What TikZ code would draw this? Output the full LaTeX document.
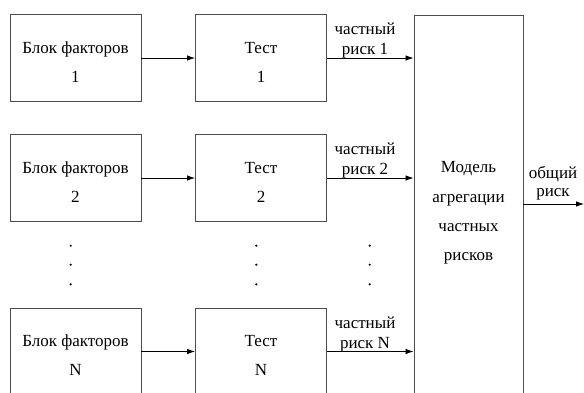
\documentclass[tikz,border=0pt]{standalone}
\usepackage{fontspec}
\setmainfont{Liberation Serif}
\usetikzlibrary{arrows.meta}
\begin{document}
\begin{tikzpicture}[x=1pt,y=-1pt,
  box/.style={draw=black!70, line width=0.9pt, minimum width=131pt,
    minimum height=86.5pt, inner sep=0pt, align=center,
    font=\fontsize{17}{29}\selectfont,
    execute at begin node={\rule{0pt}{48pt}}},
  bigbox/.style={draw=black!70, line width=0.9pt, minimum width=109pt,
    minimum height=396pt, inner sep=0pt, align=center,
    font=\fontsize{17}{29.3}\selectfont},
  lbl/.style={align=center, inner sep=0pt, font=\fontsize{17}{20}\selectfont},
  arr/.style={-{Latex[length=8pt,width=5.5pt]}, line width=0.8pt},
  dot/.style={circle, fill=black, inner sep=0pt, minimum size=2.4pt}]
\useasboundingbox (0,0) rectangle (584,392);
\clip (0,0) rectangle (584,392);

% factor blocks
\node[box] (f1) at (75.5,58)   {Блок факторов\\1};
\node[box] (f2) at (75.5,178)  {Блок факторов\\2};
\node[box] (fn) at (75.5,351.5){Блок факторов\\N};

% tests
\node[box] (t1) at (261,58)    {Тест\\1};
\node[box] (t2) at (261,178)   {Тест\\2};
\node[box] (tn) at (261,351.5) {Тест\\N};

% aggregation model
\node[bigbox] (m) at (468.5,213) {Модель\\агрегации\\частных\\рисков};

% connectors
\draw[arr] (f1) -- (t1);
\draw[arr] (f2) -- (t2);
\draw[arr] (fn) -- (tn);
\draw[arr] (t1.east) -- (t1.east -| m.west);
\draw[arr] (t2.east) -- (t2.east -| m.west);
\draw[arr] (tn.east) -- (tn.east -| m.west);
\coordinate (out) at (584,204);
\draw[arr] (out -| m.east) -- (out);

% connector labels
\node[lbl, anchor=south] (l1) at (365,58.5)  {частный\\риск 1};
\node[lbl, anchor=south] (l2) at (365,178)   {частный\\риск 2};
\node[lbl, anchor=south] (ln) at (365,352)   {частный\\риск N};
\node[lbl, anchor=south, font=\fontsize{17}{18}\selectfont] (lo) at (553,200) {общий\\риск};

% ellipsis dots
\foreach \x/\n in {70.7/a,256.3/b,369.7/c}
  \foreach \y/\k in {245.7/1,264.7/2,284.3/3}
    \node[dot] (d\n\k) at (\x,\y) {};
\end{tikzpicture}
\end{document}
